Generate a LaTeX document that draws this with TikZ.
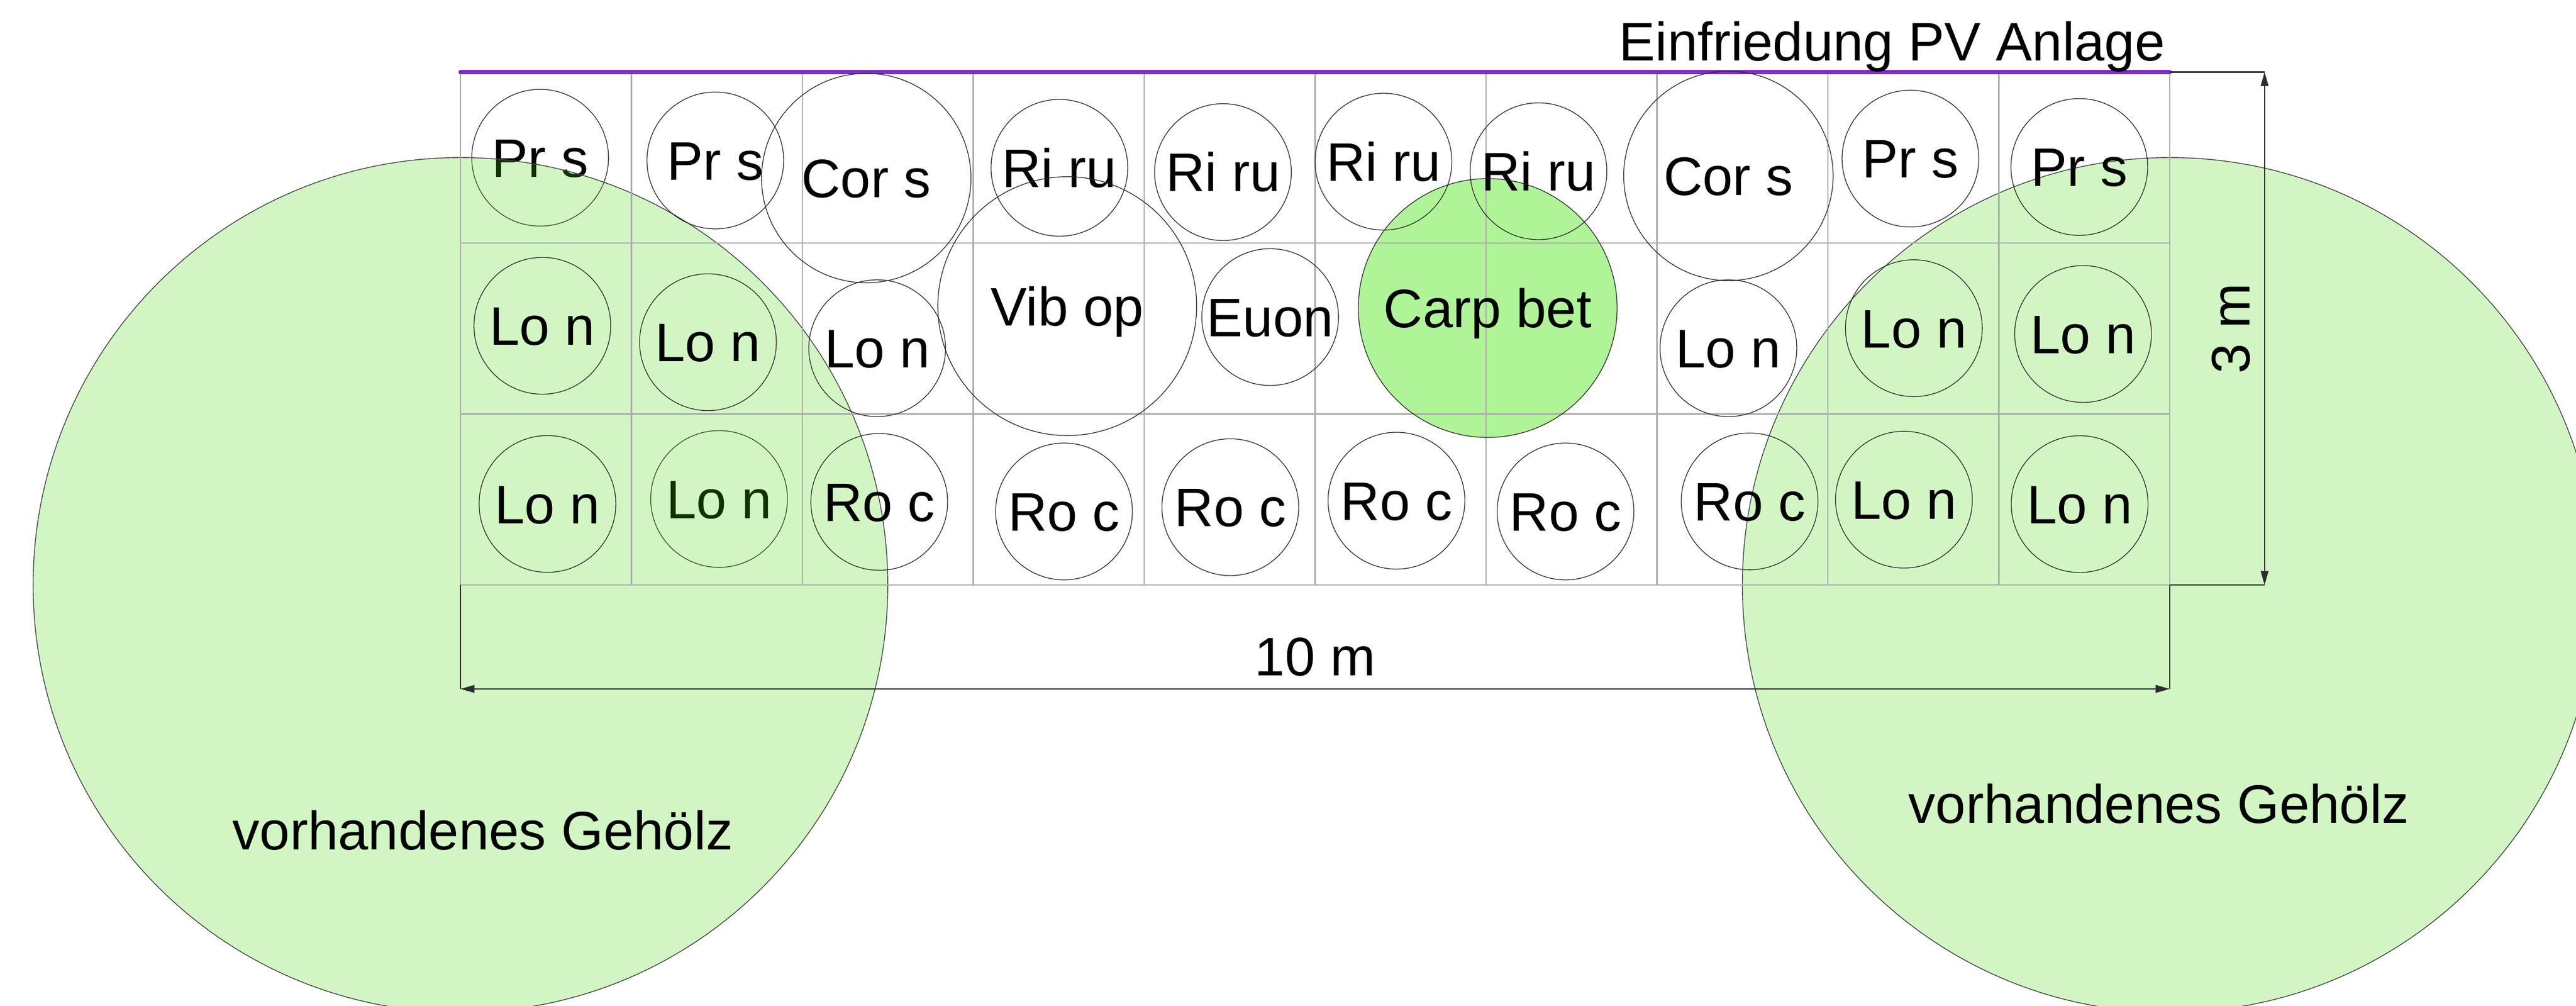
\documentclass[tikz,border=0pt]{standalone}
\usepackage{fontspec}
\setmainfont{Liberation Sans}
\usetikzlibrary{arrows.meta}
\definecolor{gridgray}{RGB}{172,172,172}
\definecolor{fence}{RGB}{125,12,225}
\definecolor{fencelight}{RGB}{170,120,240}
\definecolor{woodgreen}{RGB}{64,217,0}
\definecolor{carpgreen}{RGB}{176,244,152}
\definecolor{dimgray}{RGB}{45,45,45}
\begin{document}
\begin{tikzpicture}[x=1cm,y=1cm,
  every node/.style={font=\fontsize{9.03}{10.8}\selectfont},
  shrub/.style={circle, draw=black!85, line width=0.12pt, inner sep=0pt, text height=0.227cm, text depth=0pt, minimum size=0.8cm},
  bigshrub/.style={shrub, minimum size=1.514cm},
  corshrub/.style={shrub, minimum size=1.225cm},
  gridline/.style={draw=gridgray, line width=0.22pt},
  dimline/.style={draw=dimgray, line width=0.2pt},
  dimarrow/.style={dimline, {Triangle[length=0.082cm,width=0.045cm]}-{Triangle[length=0.082cm,width=0.045cm]}},
  txt/.style={inner sep=0pt},
]
\useasboundingbox (-2.694,-2.4595) rectangle (12.377,3.4215);
\fill[white] (-2.694,-2.4595) rectangle (12.377,3.4215);

% shrubs lying beneath the existing woods
\node[shrub] (p1) at (0.466,2.499) {Pr s};
\node[shrub] (l32) at (1.513,0.503) {Lo n};

% fills
\fill[carpgreen] (6.010,1.620) circle (0.757);
\path[fill=woodgreen, fill opacity=0.235, draw=black!75, line width=0.13pt] (0,0) circle (2.5);
\path[fill=woodgreen, fill opacity=0.235, draw=black!75, line width=0.13pt] (10,0) circle (2.5);

% grid
\foreach \i in {0,...,10} \draw[gridline] (\i,0) -- (\i,3);
\foreach \j in {0,...,3} \draw[gridline] (0,\j) -- (10,\j);

% fence
\draw[fence, line width=0.66pt, line cap=round] (0,3) -- (10,3);
\draw[fencelight, line width=0.15pt] (0,3) -- (10,3);

% row 1
\node[shrub] (p2) at (1.491,2.483) {Pr s};
\node[corshrub] (c1) at (2.374,2.380) {Cor s};
\node[shrub] (r1) at (3.504,2.440) {Ri ru};
\node[shrub] (r2) at (4.461,2.415) {Ri ru};
\node[shrub] (r3) at (5.400,2.476) {Ri ru};
\node[shrub] (r4) at (6.307,2.420) {Ri ru};
\node[corshrub] (c2) at (7.418,2.393) {Cor s};
\node[shrub] (p3) at (8.483,2.494) {Pr s};
\node[shrub] (p4) at (9.471,2.445) {Pr s};

% row 2
\node[shrub] (l21) at (0.479,1.516) {Lo n};
\node[shrub] (l22) at (1.448,1.420) {Lo n};
\node[shrub] (l23) at (2.438,1.385) {Lo n};
\node[bigshrub] (vib) at (3.550,1.631) {Vib op};
\node[shrub] (euon) at (4.737,1.567) {Euon};
\node[bigshrub] (carp) at (6.010,1.620) {Carp bet};
\node[shrub] (l24) at (7.418,1.385) {Lo n};
\node[shrub] (l25) at (8.503,1.502) {Lo n};
\node[shrub] (l26) at (9.493,1.468) {Lo n};

% row 3
\node[shrub] (l31) at (0.509,0.474) {Lo n};
\node[shrub] (ro1) at (2.450,0.486) {Ro c};
\node[shrub] (ro2) at (3.531,0.430) {Ro c};
\node[shrub] (ro3) at (4.504,0.455) {Ro c};
\node[shrub] (ro4) at (5.476,0.493) {Ro c};
\node[shrub] (ro5) at (6.465,0.430) {Ro c};
\node[shrub] (ro6) at (7.542,0.489) {Ro c};
\node[shrub] (l33) at (8.445,0.499) {Lo n};
\node[shrub] (l34) at (9.473,0.473) {Lo n};

% labels
\node[txt, anchor=base east] (einf) at (9.98,3.067) {Einfriedung PV Anlage};
\node[txt, anchor=base] (woodl) at (0.132,-1.548) {vorhandenes Gehölz};
\node[txt, anchor=base] (woodr) at (9.937,-1.394) {vorhandenes Gehölz};

% dimensions
\coordinate (bl) at (0,0);
\coordinate (br) at (10,0);
\coordinate (tr) at (10,3);
\coordinate (d10l) at (0,-0.608);
\coordinate (d10r) at (10,-0.608);
\coordinate (d3t) at (10.555,3);
\coordinate (d3b) at (10.555,0);
\draw[dimline] (bl) -- (d10l);
\draw[dimline] (br) -- (d10r);
\draw[dimarrow] (d10l) -- (d10r);
\draw[dimline] (tr) -- (d3t);
\draw[dimline] (br) -- (d3b);
\draw[dimarrow] (d3b) -- (d3t);
\node[txt, anchor=base] (lab10) at (5,-0.529) {10 m};
\node[txt, rotate=90] (lab3) at (10.36,1.5) {3 m};
\end{tikzpicture}
\end{document}
